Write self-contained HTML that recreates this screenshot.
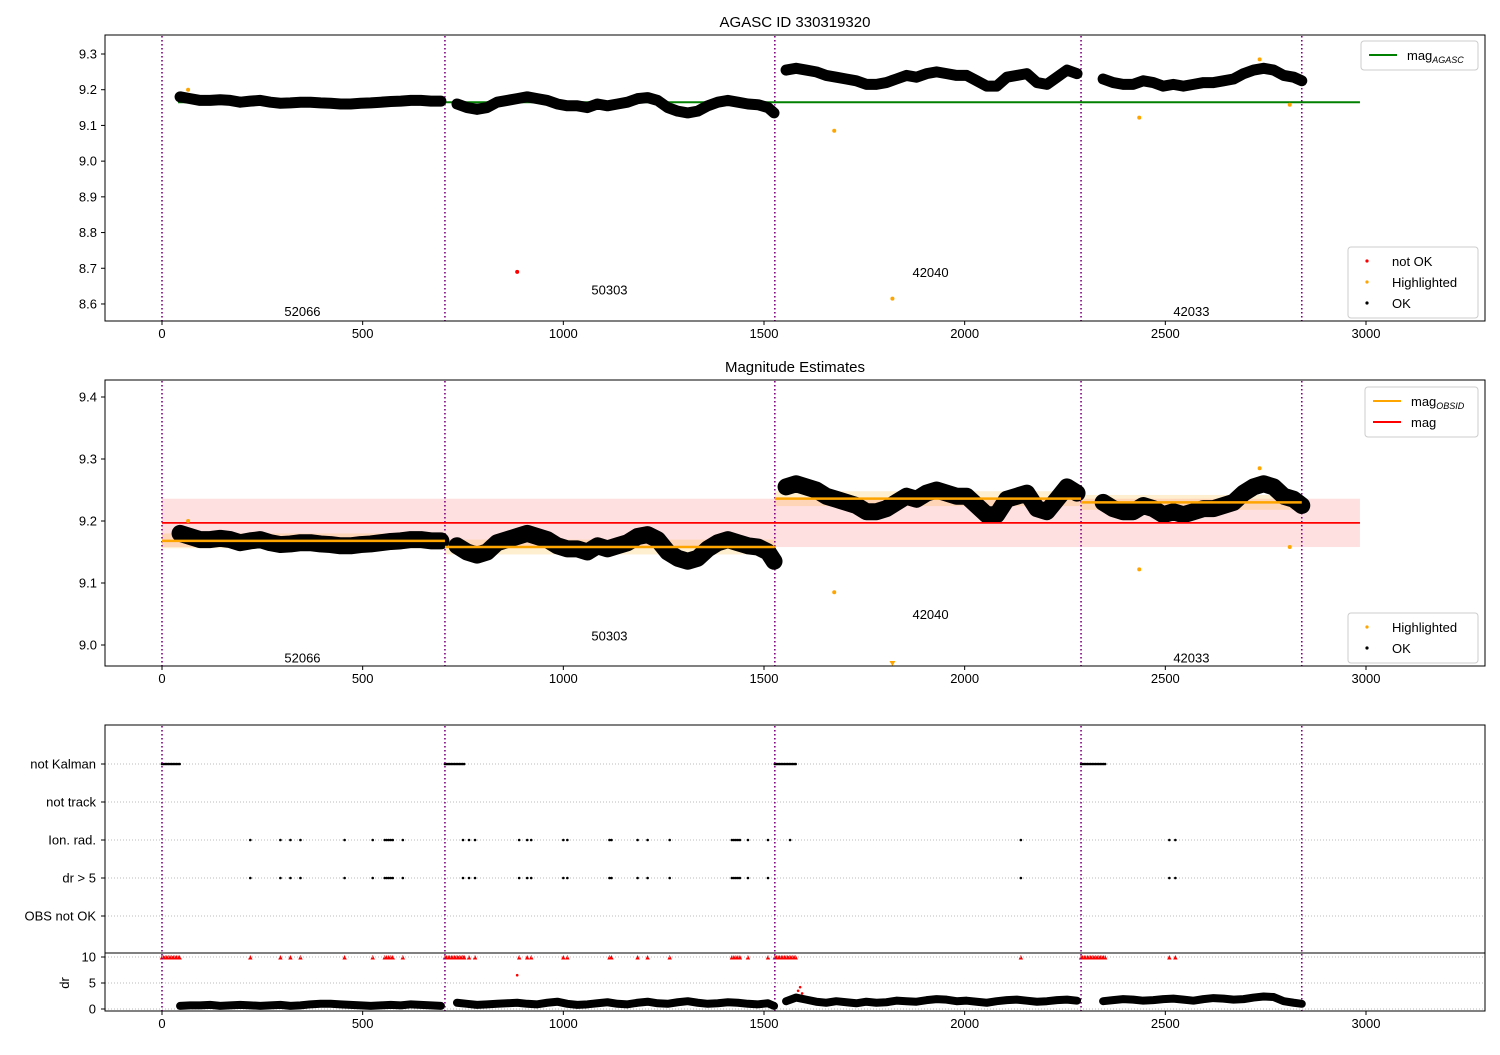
<!DOCTYPE html>
<html><head><meta charset="utf-8"><style>
body{margin:0;background:#fff;}
svg text{font-family:"Liberation Sans","DejaVu Sans",sans-serif;}
</style></head><body>
<svg id="c" width="1500" height="1050" xmlns="http://www.w3.org/2000/svg"></svg>
<script>
const t1=[45,70,95,120,145,170,195,220,245,270,295,320,345,370,395,420,445,470,495,520,545,570,595,620,645,670,695];
const mag1=[9.18,9.175,9.17,9.17,9.172,9.17,9.165,9.168,9.17,9.165,9.162,9.163,9.165,9.165,9.163,9.162,9.16,9.16,9.162,9.163,9.165,9.167,9.168,9.17,9.17,9.168,9.168];
const dr1=[0.6,0.7,0.7,0.8,0.6,0.7,0.8,0.7,0.6,0.7,0.8,0.6,0.7,0.9,1.0,1.0,0.9,0.8,0.7,0.6,0.7,0.8,0.7,0.9,0.8,0.7,0.6];
const t2=[735,760,785,810,835,860,885,910,935,960,985,1010,1035,1060,1085,1110,1135,1160,1185,1210,1235,1260,1285,1310,1335,1360,1385,1410,1435,1460,1485,1510,1525];
const mag2=[9.16,9.15,9.145,9.15,9.165,9.17,9.175,9.18,9.175,9.17,9.16,9.155,9.155,9.15,9.16,9.155,9.16,9.165,9.175,9.178,9.17,9.15,9.14,9.135,9.14,9.155,9.165,9.17,9.165,9.16,9.158,9.15,9.135];
const dr2=[1.2,1.0,0.8,0.9,1.0,1.1,1.2,1.0,0.9,1.2,1.4,1.0,0.8,0.9,1.1,1.3,1.0,0.9,1.2,1.4,1.1,1.0,1.3,1.5,1.2,1.0,1.1,1.3,1.2,1.0,0.9,1.1,0.6];
const t3=[1555,1580,1605,1630,1655,1680,1705,1730,1755,1780,1805,1830,1855,1880,1905,1930,1955,1980,2005,2030,2055,2080,2105,2130,2155,2180,2205,2230,2255,2280];
const mag3=[9.255,9.26,9.255,9.25,9.24,9.235,9.23,9.225,9.215,9.215,9.22,9.23,9.24,9.235,9.245,9.25,9.245,9.24,9.24,9.225,9.21,9.21,9.235,9.24,9.245,9.22,9.215,9.235,9.255,9.245];
const dr3=[1.5,2.2,1.8,1.4,1.2,1.5,1.3,1.1,1.4,1.2,1.3,1.6,1.5,1.4,1.7,1.9,1.8,1.5,1.6,1.4,1.2,1.5,1.7,1.8,1.6,1.4,1.5,1.7,1.8,1.6];
const t4=[2345,2370,2395,2420,2445,2470,2495,2520,2545,2570,2595,2620,2645,2670,2695,2720,2745,2770,2795,2820,2840];
const mag4=[9.23,9.22,9.215,9.215,9.225,9.22,9.21,9.215,9.21,9.215,9.22,9.22,9.225,9.23,9.245,9.255,9.26,9.255,9.24,9.235,9.225];
const dr4=[1.5,1.7,1.9,1.8,1.6,1.7,1.9,2.0,1.8,1.6,1.9,2.1,2.0,1.8,1.9,2.2,2.4,2.3,1.5,1.2,1.0];
const obsStarts=[0,705,1527,2290,2840];
const obsIds=["52066","50303","42040","42033"];
const obsMean=[9.168,9.158,9.236,9.230];
const obsLabelT=[350,1115,1915,2565];
const obsLabelY1=[8.58,8.64,8.69,8.58];
const obsLabelY2=[8.98,9.015,9.05,8.98];
const magAgasc=9.165, magAll=9.197, magStd=0.039;
const hlT=[65,1675,1820,2435,2735,2810];
const hlV=[9.2,9.085,8.615,9.122,9.285,9.158];
const notOkT=[885], notOkV=[8.69];
const flagT=[220,295,320,345,455,525,555,560,565,570,575,600,750,765,780,890,910,920,1000,1010,1115,1120,1185,1210,1265,1420,1425,1430,1435,1440,1460,1510,2140,2510,2525];
const ionExtraT=[1565];
const kalmanSpans=[[0,45],[705,755],[1527,1580],[2290,2350]];
const redDrT=[885,1585,1590,1595];
const redDrV=[6.5,3.5,4.2,3.0];
const cats=["not Kalman","not track","Ion. rad.","dr > 5","OBS not OK"];

const NS="http://www.w3.org/2000/svg";
const svg=document.getElementById('c');
function el(tag,attrs,parent,text){const e=document.createElementNS(NS,tag);for(const k in attrs)e.setAttribute(k,attrs[k]);if(text!==undefined)e.textContent=text;(parent||svg).appendChild(e);return e;}
const X=t=>162+t*0.40133;
const L=105,R=1485;
const segsT=[t1,t2,t3,t4], segsM=[mag1,mag2,mag3,mag4], segsD=[dr1,dr2,dr3,dr4];

function frame(top,bot,name){
  el('rect',{x:L,y:top,width:R-L,height:bot-top,fill:'none',stroke:'#000','stroke-width':1,});
}
function xticks(bot,name){
  const g=el('g',{});
  [0,500,1000,1500,2000,2500,3000].forEach(v=>{el('line',{x1:X(v),x2:X(v),y1:bot,y2:bot+4,stroke:'#000'},g);el('text',{x:X(v),y:bot+17,'font-size':13,'text-anchor':'middle'},g,v);});
}
function yticks(vals,Y,name,fmt){
  const g=el('g',{});
  vals.forEach(v=>{el('line',{x1:L-4,x2:L,y1:Y(v),y2:Y(v),stroke:'#000'},g);el('text',{x:L-8,y:Y(v)+4.5,'font-size':13,'text-anchor':'end'},g,fmt(v));});
}
function vlines(top,bot){
  obsStarts.forEach(s=>el('line',{x1:X(s),x2:X(s),y1:top,y2:bot,stroke:'#800080','stroke-width':1.6,'stroke-dasharray':'1.5,2.5',}));
}
function series(Y,bandPx,name){
  const g=el('g',{});
  segsT.forEach((ts,i)=>{
    const pts=ts.map((t,j)=>X(t)+','+Y(segsM[i][j])).join(' ');
    el('polyline',{points:pts,fill:'none',stroke:'#000','stroke-width':bandPx,'stroke-linejoin':'round','stroke-linecap':'round'},g);
  });
}
function legend(x,y,w,entries,name){
  const h=entries.length*21+8;
  const g=el('g',{});
  el('rect',{x:x,y:y,width:w,height:h,fill:'#fff',stroke:'#ccc',rx:3},g);
  entries.forEach((e,i)=>{
    const cy=y+14+i*21;
    if(e.type==='line')el('line',{x1:x+8,x2:x+36,y1:cy,y2:cy,stroke:e.c,'stroke-width':2},g);
    else el('circle',{cx:x+19,cy:cy,r:1.6,fill:e.c},g);
    const t=el('text',{x:x+(e.type==='line'?46:44),y:cy+5,'font-size':13},g);
    t.textContent=e.label;
    if(e.sub){const s=el('tspan',{'font-size':9,'font-style':'italic',dy:3},t);s.textContent=e.sub;}
  });
}

// Panel 1
const Y1=v=>54+(9.3-v)*357.1;
el('text',{x:795,y:27,'font-size':15,'text-anchor':'middle',},svg,'AGASC ID 330319320');
vlines(36,321);
el('line',{x1:X(40),x2:X(2985),y1:Y1(magAgasc),y2:Y1(magAgasc),stroke:'green','stroke-width':2,});
series(Y1,11,'mag-points-top');
hlT.forEach((t,i)=>el('circle',{cx:X(t),cy:Y1(hlV[i]),r:2,fill:'orange',}));
notOkT.forEach((t,i)=>el('circle',{cx:X(t),cy:Y1(notOkV[i]),r:2,fill:'red',}));
obsIds.forEach((id,i)=>el('text',{x:X(obsLabelT[i]),y:Y1(obsLabelY1[i])+5,'font-size':13,'text-anchor':'middle',},svg,id));
frame(35,321,'panel-top');xticks(321,'panel-top');
yticks([8.6,8.7,8.8,8.9,9.0,9.1,9.2,9.3],Y1,'panel-top',v=>v.toFixed(1));
legend(1361,41,117,[{type:'line',c:'green',label:'mag',sub:'AGASC'}],'legend-top-mag');
legend(1348,247,130,[{c:'red',label:'not OK'},{c:'orange',label:'Highlighted'},{c:'#000',label:'OK'}],'legend-top-points');

// Panel 2
const Y2=v=>397+(9.4-v)*620;
el('text',{x:795,y:372,'font-size':15,'text-anchor':'middle',},svg,'Magnitude Estimates');
el('rect',{x:X(0),y:Y2(magAll+magStd),width:X(2985)-X(0),height:Y2(magAll-magStd)-Y2(magAll+magStd),fill:'rgba(255,0,0,0.12)',});
obsMean.forEach((m,i)=>{
  el('rect',{x:X(obsStarts[i]),y:Y2(m+0.012),width:X(obsStarts[i+1])-X(obsStarts[i]),height:Y2(m-0.012)-Y2(m+0.012),fill:'rgba(255,165,0,0.18)',});
});
vlines(381,666);
series(Y2,17,'mag-points-mid');
obsMean.forEach((m,i)=>el('line',{x1:X(obsStarts[i]),x2:X(obsStarts[i+1]),y1:Y2(m),y2:Y2(m),stroke:'orange','stroke-width':2.5,}));
el('line',{x1:X(0),x2:X(2985),y1:Y2(magAll),y2:Y2(magAll),stroke:'red','stroke-width':1.8,});
hlT.forEach((t,i)=>{
  if(hlV[i]<8.975){el('path',{d:`M${X(t)-3},${661} L${X(t)+3},${661} L${X(t)},${666} Z`,fill:'orange',});}
  else el('circle',{cx:X(t),cy:Y2(hlV[i]),r:2,fill:'orange',});
});
obsIds.forEach((id,i)=>el('text',{x:X(obsLabelT[i]),y:Y2(obsLabelY2[i])+5,'font-size':13,'text-anchor':'middle',},svg,id));
frame(380,666,'panel-mid');xticks(666,'panel-mid');
yticks([9.0,9.1,9.2,9.3,9.4],Y2,'panel-mid',v=>v.toFixed(1));
legend(1365,387,113,[{type:'line',c:'orange',label:'mag',sub:'OBSID'},{type:'line',c:'red',label:'mag'}],'legend-mid-mag');
legend(1348,613,130,[{c:'orange',label:'Highlighted'},{c:'#000',label:'OK'}],'legend-mid-points');

// Panel 3 flags
const catY=i=>764+i*38;
const gf=el('g',{});
cats.forEach((c,i)=>{
  el('line',{x1:L,x2:R,y1:catY(i),y2:catY(i),stroke:'#bbb','stroke-dasharray':'1,2'},gf);
  el('line',{x1:L-4,x2:L,y1:catY(i),y2:catY(i),stroke:'#000'},gf);
  el('text',{x:L-9,y:catY(i)+4.5,'font-size':13,'text-anchor':'end'},gf,c);
});
vlines(726,1011);
kalmanSpans.forEach(s=>{for(let t=s[0];t<=s[1];t+=4){
  el('circle',{cx:X(t),cy:catY(0),r:1.3,fill:'#000'},gf);
  el('path',{d:`M${X(t)-2.2},${959.5} L${X(t)+2.2},${959.5} L${X(t)},${955} Z`,fill:'red'},gf);
}});
flagT.concat(ionExtraT).forEach(t=>el('circle',{cx:X(t),cy:catY(2),r:1.3,fill:'#000'},gf));
flagT.forEach(t=>{el('circle',{cx:X(t),cy:catY(3),r:1.3,fill:'#000'},gf);
  el('path',{d:`M${X(t)-2.2},${959.5} L${X(t)+2.2},${959.5} L${X(t)},${955} Z`,fill:'red'},gf);});
frame(725,953,'panel-flags');
// dr panel
const YD=v=>1009-v*5.2;
const gd=el('g',{});
[0,5,10].forEach(v=>{el('line',{x1:L,x2:R,y1:YD(v),y2:YD(v),stroke:'#bbb','stroke-dasharray':'1,2'},gd);
  el('line',{x1:L-4,x2:L,y1:YD(v),y2:YD(v),stroke:'#000'},gd);
  el('text',{x:L-9,y:YD(v)+4.5,'font-size':13,'text-anchor':'end'},gd,v);});
segsT.forEach((ts,i)=>{
  el('polyline',{points:ts.map((t,j)=>X(t)+','+YD(segsD[i][j])).join(' '),fill:'none',stroke:'#000','stroke-width':8,'stroke-linejoin':'round','stroke-linecap':'round'},gd);
});
redDrT.forEach((t,i)=>el('circle',{cx:X(t),cy:YD(redDrV[i]),r:1.3,fill:'red'},gd));
el('text',{x:0,y:0,'font-size':13,'text-anchor':'middle',transform:'translate(69,983) rotate(-90)'},gd,'dr');
el('line',{x1:L,x2:R,y1:953,y2:953,stroke:'#000'},gd);
el('rect',{x:L,y:953,width:R-L,height:58,fill:'none',stroke:'#000'},gd);
xticks(1011,'panel-dr');
</script>
</body></html>
